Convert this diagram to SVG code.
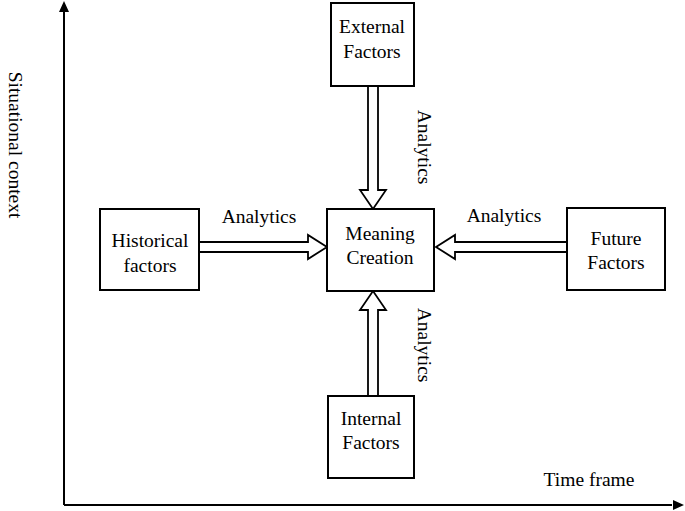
<svg xmlns="http://www.w3.org/2000/svg" width="685" height="511" viewBox="0 0 685 511">
<style>
text{font-family:"Liberation Serif",serif;font-size:19.5px;fill:#000;text-anchor:middle}
.b{fill:#fff;stroke:#000;stroke-width:2}
.a{fill:#fff;stroke:#000;stroke-width:1.8}
</style>
<rect width="685" height="511" fill="#fff"/>
<g id="axes">
<path d="M64 505V10M64 505H672" stroke="#000" stroke-width="2" fill="none"/>
<path d="M64 1L59 12H69Z M684 505L673 500V510Z" fill="#000"/>
<text transform="translate(9 145) rotate(90)">Situational context</text>
<text x="589" y="486">Time frame</text>
</g>
<g id="connectors">
<path class="a" d="M368 86V190H360L373 209L386 190H378V86Z"/>
<path class="a" d="M368 396V310H360L373 291L386 310H378V396Z"/>
<path class="a" d="M199 242H308V235L327 247L308 259V252H199Z"/>
<path class="a" d="M567 242H455V235L436 247L455 259V252H567Z"/>
<text x="259" y="223">Analytics</text>
<text x="504" y="222">Analytics</text>
<text transform="translate(418 147) rotate(90)">Analytics</text>
<text transform="translate(418 345) rotate(90)">Analytics</text>
</g>
<g id="external"><rect class="b" x="331" y="3" width="83" height="83"/><text x="372" y="33">External</text><text x="372" y="58">Factors</text></g>
<g id="meaning"><rect class="b" x="327" y="209" width="107" height="82"/><text x="380" y="240">Meaning</text><text x="380" y="264">Creation</text></g>
<g id="historical"><rect class="b" x="100" y="209" width="99" height="81"/><text x="150" y="247">Historical</text><text x="150" y="272">factors</text></g>
<g id="future"><rect class="b" x="567" y="208" width="98" height="82"/><text x="616" y="245">Future</text><text x="616" y="269">Factors</text></g>
<g id="internal"><rect class="b" x="328" y="396" width="86" height="82"/><text x="371" y="425">Internal</text><text x="371" y="449">Factors</text></g>
</svg>
